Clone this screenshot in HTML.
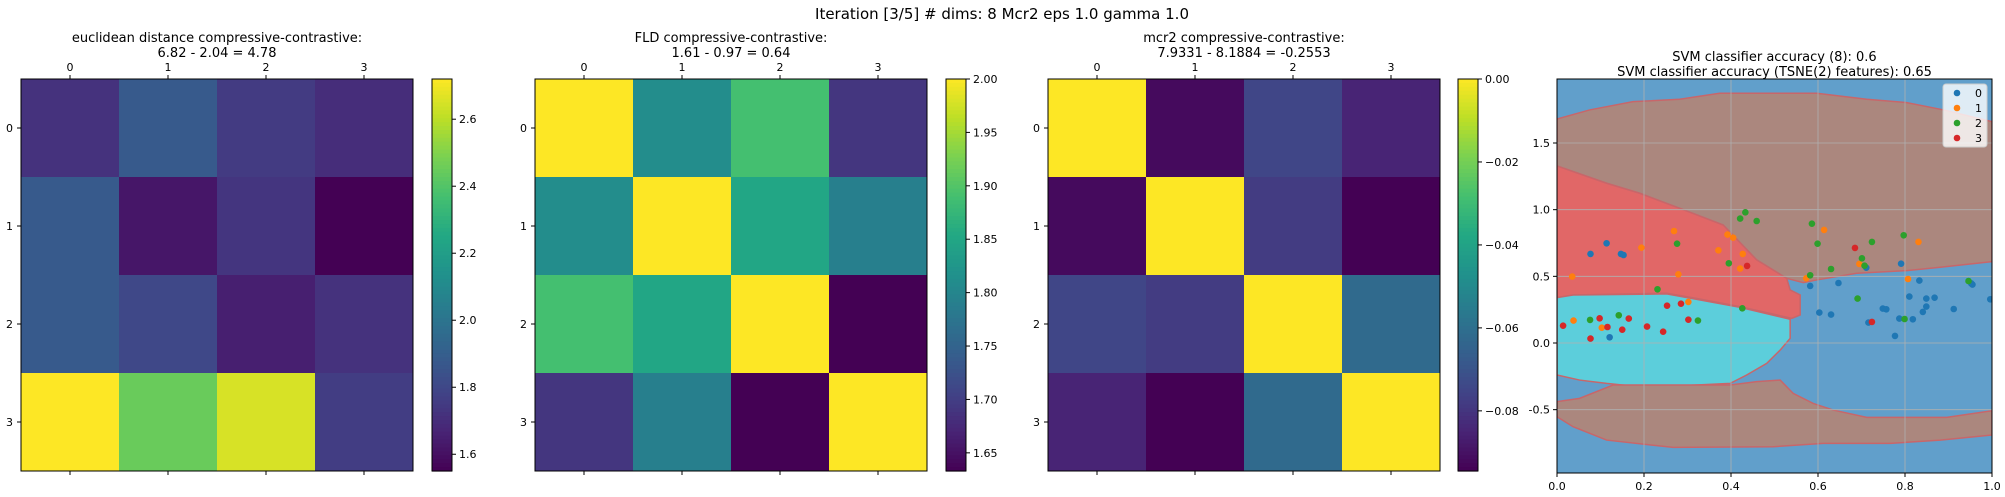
<!DOCTYPE html>
<html><head><meta charset="utf-8"><style>
html,body{margin:0;padding:0;background:#fff;}
svg{display:block;font-family:"DejaVu Sans","Liberation Sans",sans-serif;}
</style></head><body>
<svg id="fig" width="2005" height="497" viewBox="0 0 2005 497" xmlns="http://www.w3.org/2000/svg">
<text x="1002" y="19" font-size="15" text-anchor="middle" fill="#000">Iteration [3/5] # dims: 8 Mcr2 eps 1.0 gamma 1.0</text>
</svg>
<script>
// ---------- data ----------
const heat1 = [[1.72,1.88,1.75,1.70],[1.88,1.62,1.73,1.55],[1.88,1.80,1.65,1.72],[2.72,2.45,2.65,1.76]];
const heat2 = [[2.0,1.81,1.89,1.69],[1.81,2.0,1.85,1.79],[1.89,1.85,2.0,1.633],[1.69,1.79,1.633,2.0]];
const heat3 = [[0,-0.092,-0.075,-0.085],[-0.092,0,-0.078,-0.0945],[-0.075,-0.078,0,-0.062],[-0.085,-0.0945,-0.062,0]];
const cbTicks1 = [1.6,1.8,2.0,2.2,2.4,2.6];
const cbTicks2 = [1.65,1.70,1.75,1.80,1.85,1.90,1.95,2.00];
const cbTicks3 = [-0.08,-0.06,-0.04,-0.02,0.00];
const cbLabels3 = ["\u22120.08","\u22120.06","\u22120.04","\u22120.02","0.00"];
const heatTitles = [["euclidean distance compressive-contrastive:","6.82 - 2.04 = 4.78"],["FLD compressive-contrastive:","1.61 - 0.97 = 0.64"],["mcr2 compressive-contrastive:","7.9331 - 8.1884 = -0.2553"]];
const svmXTicks = [0,0.2,0.4,0.6,0.8,1.0];
const svmYTicks = [-0.5,0,0.5,1.0,1.5];
const class0 = [[0.077,0.668],[0.114,0.748],[0.147,0.668],[0.153,0.66],[0.121,0.043],[0.582,0.428],[0.603,0.228],[0.63,0.213],[0.647,0.45],[0.711,0.565],[0.716,0.153],[0.749,0.258],[0.757,0.253],[0.777,0.053],[0.787,0.183],[0.791,0.595],[0.81,0.348],[0.818,0.178],[0.833,0.468],[0.841,0.233],[0.849,0.333],[0.849,0.273],[0.868,0.34],[0.912,0.255],[0.952,0.448],[0.955,0.438],[0.996,0.328]];
const class1 = [[0.035,0.498],[0.038,0.168],[0.103,0.115],[0.194,0.715],[0.269,0.84],[0.279,0.515],[0.302,0.308],[0.371,0.695],[0.392,0.813],[0.405,0.79],[0.421,0.558],[0.427,0.668],[0.573,0.485],[0.614,0.848],[0.695,0.593],[0.807,0.48],[0.831,0.758]];
const class2 = [[0.076,0.173],[0.142,0.208],[0.231,0.403],[0.276,0.745],[0.324,0.168],[0.395,0.598],[0.421,0.933],[0.426,0.26],[0.433,0.98],[0.459,0.915],[0.582,0.508],[0.586,0.895],[0.599,0.745],[0.63,0.555],[0.691,0.333],[0.701,0.635],[0.707,0.58],[0.724,0.758],[0.797,0.808],[0.799,0.18],[0.946,0.465]];
const class3 = [[0.014,0.13],[0.077,0.033],[0.098,0.185],[0.116,0.12],[0.15,0.10],[0.165,0.183],[0.207,0.123],[0.244,0.085],[0.253,0.28],[0.285,0.295],[0.302,0.175],[0.437,0.578],[0.685,0.713],[0.724,0.158]];
const regionUpper = [[0,1.68],[0.075,1.748],[0.175,1.81],[0.282,1.828],[0.374,1.873],[0.597,1.873],[0.712,1.828],[0.804,1.803],[0.889,1.748],[1,1.66],[1,0.61],[0.881,0.568],[0.804,0.543],[0.689,0.523],[0.597,0.473],[0.566,0.453],[0.528,0.485],[0.459,0.623],[0.382,0.885],[0.282,1.01],[0.19,1.123],[0.114,1.198],[0,1.328]];
const regionRed = [[0,1.328],[0.114,1.198],[0.19,1.123],[0.282,1.01],[0.382,0.885],[0.459,0.623],[0.528,0.485],[0.536,0.398],[0.559,0.36],[0.559,0.21],[0.54,0.185],[0.42,0.273],[0.32,0.335],[0.252,0.373],[0.037,0.36],[0,0.34]];
const regionCyan = [[0,0.34],[0.037,0.36],[0.252,0.368],[0.32,0.328],[0.42,0.268],[0.536,0.178],[0.536,0.035],[0.513,-0.053],[0.482,-0.153],[0.436,-0.24],[0.398,-0.303],[0.267,-0.323],[0.175,-0.323],[0.114,-0.303],[0.052,-0.278],[0,-0.24]];
const regionLower = [[0,-0.44],[0.052,-0.415],[0.129,-0.315],[0.398,-0.315],[0.459,-0.29],[0.513,-0.278],[0.543,-0.378],[0.589,-0.453],[0.635,-0.503],[0.712,-0.558],[0.896,-0.558],[1,-0.508],[1,-0.69],[0.881,-0.728],[0.766,-0.753],[0.612,-0.753],[0.497,-0.778],[0.267,-0.783],[0.114,-0.728],[0.037,-0.628],[0,-0.553]];

// ---------- helpers ----------
const NS="http://www.w3.org/2000/svg";
const svg=document.getElementById('fig');
function mk(tag,attrs,parent){const e=document.createElementNS(NS,tag);for(const k in attrs)e.setAttribute(k,attrs[k]);(parent||svg).appendChild(e);return e;}
const VIR=[[68,1,84],[72,36,117],[65,68,135],[53,95,141],[42,120,142],[33,145,140],[34,168,132],[68,191,112],[122,209,81],[189,223,38],[253,231,37]];
function viridis(t){t=Math.max(0,Math.min(1,t));const p=t*10,i=Math.min(9,Math.floor(p)),f=p-i;const a=VIR[i],b=VIR[i+1];return 'rgb('+a.map((v,k)=>Math.round(v+(b[k]-v)*f)).join(',')+')';}

const Y0=79,SZ=392;
function heatmap(idx,x0,data,vmin,vmax,cbx,ticks,labels){
  const cell=SZ/4;
  const sx=c=>x0+c*cell, sy=r=>Y0+r*cell;
  const g=mk('g',{});
  
  
  data.forEach((row,r)=>row.forEach((v,c)=>{
    const rc=mk('rect',{x:sx(c),y:sy(r),width:cell+0.5,height:cell+0.5,fill:viridis((v-vmin)/(vmax-vmin))},g);
    
    
  }));
  mk('rect',{x:x0,y:Y0,width:SZ,height:SZ,fill:'none',stroke:'#000','stroke-width':1},g);
  for(let i=0;i<4;i++){
    const cx=sx(i)+cell/2, cy=sy(i)+cell/2;
    mk('line',{x1:cx,x2:cx,y1:Y0,y2:Y0-4,stroke:'#000'},g);
    mk('line',{x1:cx,x2:cx,y1:Y0+SZ,y2:Y0+SZ+4,stroke:'#000'},g);
    mk('line',{x1:x0,x2:x0-4,y1:cy,y2:cy,stroke:'#000'},g);
    const t=mk('text',{x:cx,y:Y0-8,'font-size':11,'text-anchor':'middle'},g);t.textContent=i;
    
    const t2=mk('text',{x:x0-8,y:cy+4,'font-size':11,'text-anchor':'end'},g);t2.textContent=i;
    
  }
  heatTitles[idx].forEach((s,k)=>{const t=mk('text',{x:x0+SZ/2,y:42+k*15,'font-size':13,'text-anchor':'middle'},g);t.textContent=s;
    });
  // colorbar
  const cb=mk('g',{});
  
  
  const N=100;
  for(let i=0;i<N;i++){mk('rect',{x:cbx,y:Y0+SZ*i/N,width:20,height:SZ/N+0.6,fill:viridis(1-(i+0.5)/N)},cb);}
  mk('rect',{x:cbx,y:Y0,width:20,height:SZ,fill:'none',stroke:'#000'},cb);
  const cy=v=>Y0+SZ*(vmax-v)/(vmax-vmin);
  ticks.forEach((v,k)=>{const y=cy(v);mk('line',{x1:cbx+20,x2:cbx+24,y1:y,y2:y,stroke:'#000'},cb);
    const t=mk('text',{x:cbx+27,y:y+4,'font-size':11},cb);t.textContent=labels?labels[k]:v.toFixed(v%1===0?2:(String(v).split('.')[1]||'').length<2?1:2);
    });
}
heatmap(0,21,heat1,1.55,2.72,432,cbTicks1,cbTicks1.map(v=>v.toFixed(1)));
heatmap(1,535,heat2,1.633,2.0,946,cbTicks2,cbTicks2.map(v=>v.toFixed(2)));
heatmap(2,1048,heat3,-0.0945,0,1458,cbTicks3,cbLabels3);

// ---------- SVM ----------
const AX={x0:1557,x1:1992,y0:79,y1:473};
const YMIN=-0.975,YMAX=1.98;
const px=v=>AX.x0+(AX.x1-AX.x0)*v;
const py=v=>AX.y1-(AX.y1-AX.y0)*(v-YMIN)/(YMAX-YMIN);
const sg=mk('g',{});


mk('clipPath',{id:'svmclip'},sg);
mk('rect',{x:AX.x0,y:AX.y0,width:AX.x1-AX.x0,height:AX.y1-AX.y0},document.getElementById('svmclip'));
const inner=mk('g',{'clip-path':'url(#svmclip)'},sg);
mk('rect',{x:AX.x0,y:AX.y0,width:AX.x1-AX.x0,height:AX.y1-AX.y0,fill:'#619fcb'},inner);
function region(pts,fill,name){const p=mk('polygon',{points:pts.map(q=>px(q[0])+','+py(q[1])).join(' '),fill:fill,stroke:'#c8666a','stroke-width':1.5},inner);
  }
region(regionUpper,'#ab877e','region-upper');
region(regionRed,'#e16767','region-red');
region(regionCyan,'#5ccedb','region-cyan');
region(regionLower,'#ab877e','region-lower');
svmXTicks.forEach(v=>{mk('line',{x1:px(v),x2:px(v),y1:AX.y0,y2:AX.y1,stroke:'#b0b0b0','stroke-width':0.8},inner);});
svmYTicks.forEach(v=>{mk('line',{x1:AX.x0,x2:AX.x1,y1:py(v),y2:py(v),stroke:'#b0b0b0','stroke-width':0.8},inner);});
const COLORS=['#1f77b4','#ff7f0e','#2ca02c','#d62728'];
[class0,class1,class2,class3].forEach((arr,c)=>arr.forEach(p=>{const d=mk('circle',{cx:px(p[0]),cy:py(p[1]),r:3.3,fill:COLORS[c]},inner);
  }));
mk('rect',{x:AX.x0,y:AX.y0,width:AX.x1-AX.x0,height:AX.y1-AX.y0,fill:'none',stroke:'#000'},sg);
svmXTicks.forEach(v=>{mk('line',{x1:px(v),x2:px(v),y1:AX.y1,y2:AX.y1+4,stroke:'#000'},sg);
  const t=mk('text',{x:px(v),y:AX.y1+17,'font-size':11,'text-anchor':'middle'},sg);t.textContent=v.toFixed(1);
  });
svmYTicks.forEach(v=>{mk('line',{x1:AX.x0,x2:AX.x0-4,y1:py(v),y2:py(v),stroke:'#000'},sg);
  const t=mk('text',{x:AX.x0-7,y:py(v)+4,'font-size':11,'text-anchor':'end'},sg);t.textContent=v.toFixed(1);
  });
["SVM classifier accuracy (8): 0.6","SVM classifier accuracy (TSNE(2) features): 0.65"].forEach((s,k)=>{
  const t=mk('text',{x:(AX.x0+AX.x1)/2,y:61+k*15,'font-size':13,'text-anchor':'middle'},sg);t.textContent=s;
  });
const lg=mk('g',{});


mk('rect',{x:1943,y:84,width:44,height:63,rx:3,fill:'#fff','fill-opacity':0.8,stroke:'#ccc'},lg);
['0','1','2','3'].forEach((s,k)=>{const y=93+k*15;
  mk('circle',{cx:1957,cy:y,r:3.3,fill:COLORS[k]},lg);
  const t=mk('text',{x:1975,y:y+4,'font-size':11},lg);t.textContent=s;
  });
</script>
</body></html>
